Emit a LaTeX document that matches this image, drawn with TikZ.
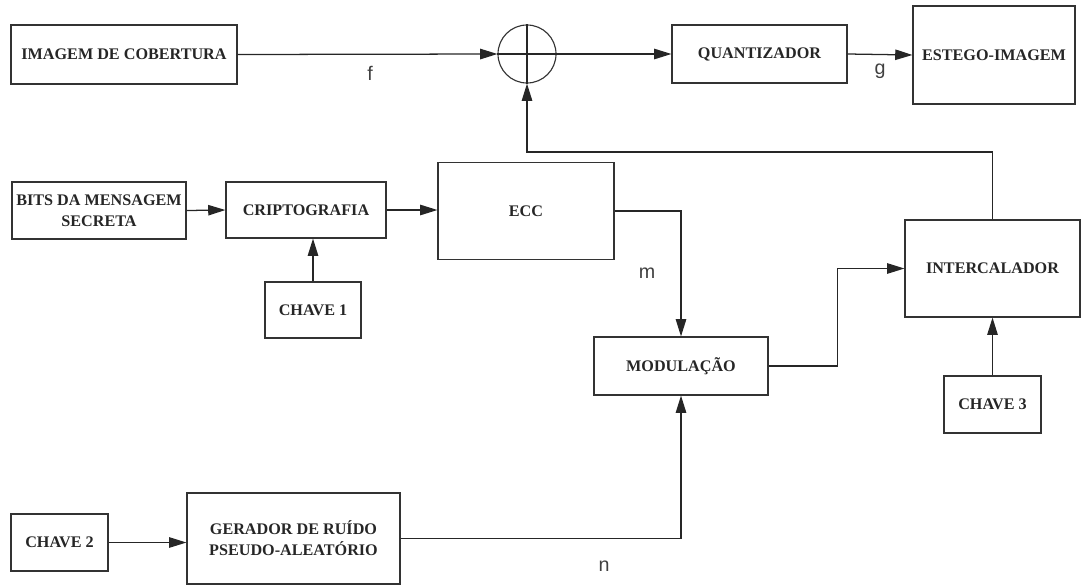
\documentclass[tikz,border=0pt]{standalone}
\usepackage{fontspec}
\setmainfont{Liberation Serif}
\newfontfamily\lblfont{Liberation Sans}
\usetikzlibrary{arrows.meta}
\begin{document}
\begin{tikzpicture}[x=0.025cm, y=-0.025cm,
    blk/.style={draw=black!80, line width=0.8pt, inner sep=2pt, align=center, text=black!85, font=\fontsize{11.5}{14.8}\selectfont\bfseries},
    seta/.style={draw=black!85, line width=0.9pt, -{Triangle[length=0.43cm,width=0.26cm]}},
    fio/.style={draw=black!85, line width=0.9pt},
    lbl/.style={text=black!75, font=\lblfont\fontsize{14}{16}\selectfont}]
    \useasboundingbox (0,0) rectangle (1083,586);
    % linha de cima
    \node[blk, minimum width=5.65cm, minimum height=1.475cm] (capa) at (124,54.5) {IMAGEM DE COBERTURA};
    \node[draw=black!80, line width=0.8pt, circle, minimum size=1.45cm, inner sep=0pt] (soma) at (527,54) {};
    \draw[fio] (soma.north) -- (soma.south) (soma.west) -- (soma.east);
    \node[blk, minimum width=4.375cm, minimum height=1.45cm] (quant) at (759.5,54) {QUANTIZADOR};
    \node[blk, minimum width=4.05cm, minimum height=2.45cm] (estego) at (994,55) {ESTEGO-IMAGEM};
    \draw[seta] (capa.east) -- (soma.west);
    \draw[seta] (soma.east) -- (quant.west);
    \draw[seta] (quant.east) -- (estego.west);
    \node[lbl] (f) at (370,73) {f};
    \node[lbl] (g) at (880,71) {g};
    % mensagem
    \node[blk, minimum width=4.35cm, minimum height=1.425cm] (bits) at (99,210.5) {BITS DA MENSAGEM\\SECRETA};
    \node[blk, minimum width=4.0cm, minimum height=1.4cm] (cripto) at (306,210) {CRIPTOGRAFIA};
    \node[blk, minimum width=2.4cm, minimum height=1.4cm] (chave1) at (313,310) {CHAVE 1};
    \node[blk, minimum width=4.4cm, minimum height=2.425cm] (ecc) at (526,211) {ECC};
    \draw[seta] (bits.east) -- (cripto.west);
    \draw[seta] (chave1.north) -- (chave1.north |- cripto.south);
    \draw[seta] (cripto.east) -- (cripto.east -| ecc.west);
    % modulacao e intercalador
    \node[blk, minimum width=4.35cm, minimum height=1.45cm] (modul) at (681,366) {MODULAÇÃO};
    \node[blk, minimum width=4.375cm, minimum height=2.425cm] (interc) at (992.5,268.5) {INTERCALADOR};
    \node[blk, minimum width=2.425cm, minimum height=1.425cm] (chave3) at (992.5,404.5) {CHAVE 3};
    \coordinate (volta) at (527,152);
    \draw[seta] (ecc.east) -| (modul.north);
    \draw[seta] (modul.east) -- ++(69,0) |- (interc.west);
    \draw[seta] (chave3.north) -- (interc.south);
    \draw[seta] (interc.north) |- (volta) -- (soma.south);
    \node[lbl] (m) at (647,273) {m};
    % ruido
    \node[blk, minimum width=2.425cm, minimum height=1.425cm] (chave2) at (59.5,542.5) {CHAVE 2};
    \node[blk, minimum width=5.325cm, minimum height=2.275cm] (gerador) at (293.5,538.5) {GERADOR DE RUÍDO\\PSEUDO-ALEATÓRIO};
    \draw[seta] (chave2.east) -- (chave2.east -| gerador.west);
    \draw[seta] (gerador.east) -| (modul.south);
    \node[lbl] (n) at (604,566) {n};
\end{tikzpicture}
\end{document}
